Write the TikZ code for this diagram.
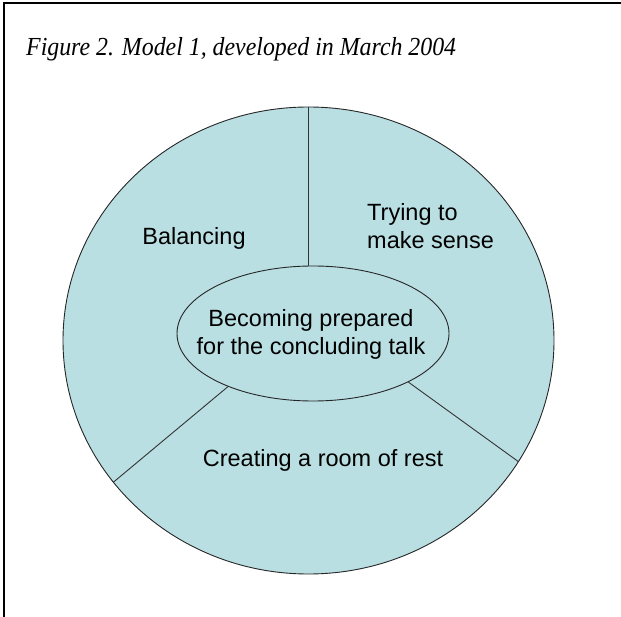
\documentclass[tikz,border=0pt]{standalone}
\usepackage{fontspec}
\setmainfont{Liberation Serif}
\newfontfamily\arialfont{Liberation Sans}
\usetikzlibrary{shapes.geometric}

\tikzset{
    part/.style={ellipse, draw=black!85, line width=0.9pt, fill=teallight, inner sep=0pt},
    partlabel/.style={font=\arialfont\fontsize{23.5}{28}\selectfont, inner sep=0pt},
    divider/.style={draw=black!80, line width=0.9pt}
}
\definecolor{teallight}{RGB}{185,223,227}

\begin{document}
\begin{tikzpicture}[x=1pt, y=-1pt]
        \useasboundingbox (0,0) rectangle (621,617);

        \draw [line width=1.8pt] (4,617) -- (4,3) -- (621,3);

        \node [anchor=base west, inner sep=0pt, xscale=0.917, transform shape, font=\itshape\fontsize{26}{30}\selectfont] (title) at (26,56) {Figure 2. Model 1, developed in March 2004};

        \node [part, minimum width=491pt, minimum height=467pt] (whole) at (308.5,340.5) {};
        \node [part, minimum width=272pt, minimum height=135pt] (core) at (313,333.5) {};

        \draw [divider] (whole.north) -- (whole.north |- core.north);
        \draw [divider] (core.212) -- (whole.216);
        \draw [divider] (core.333) -- (whole.330);

        \node [partlabel] (balancing) at (194,238) {Balancing};
        \node [partlabel, anchor=west, align=left] (sense) at (367,226) {Trying to\\make sense};
        \node [partlabel, align=center] (prepared) at (311,334) {Becoming prepared\\for the concluding talk};
        \node [partlabel] (rest) at (323,460) {Creating a room of rest};
    \end{tikzpicture}
\end{document}
